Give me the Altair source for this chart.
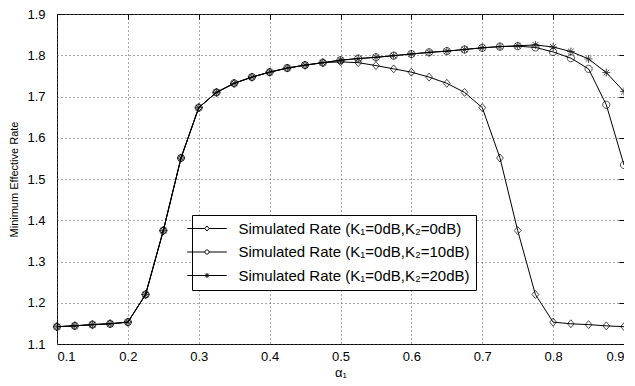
import altair as alt
import pandas as pd

alpha = [0.1, 0.125, 0.15, 0.175, 0.2, 0.225, 0.25, 0.275, 0.3, 0.325, 0.35,
         0.375, 0.4, 0.425, 0.45, 0.475, 0.5, 0.525, 0.55, 0.575, 0.6, 0.625,
         0.65, 0.675, 0.7, 0.725, 0.75, 0.775, 0.8, 0.825, 0.85, 0.875, 0.9]

rate_k2_0 = [1.142, 1.144, 1.147, 1.149, 1.153, 1.220, 1.375, 1.551, 1.673, 1.710,
             1.732, 1.747, 1.759, 1.769, 1.776, 1.782, 1.784, 1.782, 1.775, 1.767,
             1.759, 1.747, 1.732, 1.710, 1.673, 1.551, 1.375, 1.220, 1.153, 1.149,
             1.147, 1.144, 1.142]

rate_k2_10 = [1.142, 1.144, 1.147, 1.149, 1.153, 1.220, 1.375, 1.551, 1.673, 1.710,
              1.732, 1.747, 1.759, 1.769, 1.776, 1.782, 1.788, 1.792, 1.795, 1.799,
              1.803, 1.807, 1.810, 1.814, 1.818, 1.821, 1.822, 1.819, 1.808, 1.793,
              1.767, 1.680, 1.534]

rate_k2_20 = [1.142, 1.144, 1.147, 1.149, 1.153, 1.220, 1.375, 1.551, 1.673, 1.710,
              1.732, 1.747, 1.759, 1.769, 1.776, 1.782, 1.788, 1.792, 1.795, 1.799,
              1.803, 1.807, 1.810, 1.814, 1.818, 1.821, 1.823, 1.825, 1.820, 1.809,
              1.791, 1.758, 1.712]

series_names = ["Simulated Rate (K₁=0dB,K₂=0dB)",
                "Simulated Rate (K₁=0dB,K₂=10dB)",
                "Simulated Rate (K₁=0dB,K₂=20dB)"]

x_ticks = [0.1, 0.2, 0.3, 0.4, 0.5, 0.6, 0.7, 0.8, 0.9]
y_ticks = [1.1, 1.2, 1.3, 1.4, 1.5, 1.6, 1.7, 1.8, 1.9]

rows = []
for name, vals in zip(series_names, [rate_k2_0, rate_k2_10, rate_k2_20]):
    for a, r in zip(alpha, vals):
        rows.append({"alpha": a, "rate": r, "series": name})
df = pd.DataFrame(rows)

# marker shapes for the plot (unit = sqrt(size)/2 px)
plot_paths = [
    "M0,-1L0.85,0L0,1L-0.85,0Z",
    "M0.9,0A0.9,0.9 0 1,1 -0.9,0A0.9,0.9 0 1,1 0.9,0Z",
    "M-1,0L1,0M0,-1L0,1M-0.72,-0.72L0.72,0.72M-0.72,0.72L0.72,-0.72",
]
# legend symbols: line with marker in the middle
legend_paths = [
    "M-3.6,0L-0.4,0M0.4,0L3.6,0M0,-0.46L0.4,0L0,0.46L-0.4,0Z",
    "M-3.6,0L-0.38,0M0.38,0L3.6,0M0.38,0A0.38,0.38 0 1,1 -0.38,0A0.38,0.38 0 1,1 0.38,0Z",
    "M-3.6,0L3.6,0M0,-0.45L0,0.45M-0.33,-0.33L0.33,0.33M-0.33,0.33L0.33,-0.33",
]

FONT = "Liberation Sans"
xs = alt.Scale(domain=[0.1, 0.9], nice=False, zero=False)
ys = alt.Scale(domain=[1.1, 1.9], nice=False, zero=False)

base = alt.Chart(df)

lines = base.mark_line(color="black", strokeWidth=1).encode(
    x=alt.X("alpha:Q", scale=xs, axis=alt.Axis(
        title="α₁", values=x_ticks, format=".1f", ticks=False, tickSize=0,
        domain=False, labelPadding=6, labelFontSize=13, labelColor="black",
        labelFont=FONT, titleFont=FONT, titleFontSize=13, titleFontWeight="normal",
        titleColor="black", titlePadding=3,
        grid=True, gridDash=[1, 3], gridColor="#555", gridWidth=1)),
    y=alt.Y("rate:Q", scale=ys, axis=alt.Axis(
        title="Minimum Effective Rate", values=y_ticks, format=".1f", ticks=False,
        tickSize=0, domain=False, labelPadding=12, labelFontSize=13,
        labelColor="black", labelFont=FONT, titleFont=FONT, titleFontSize=11,
        titleFontWeight="normal", titleColor="black", titlePadding=7,
        grid=True, gridDash=[1, 3], gridColor="#555", gridWidth=1)),
    detail="series:N",
)

points = base.mark_point(filled=False, color="black", strokeWidth=1, size=64).encode(
    x=alt.X("alpha:Q", scale=xs, axis=alt.Axis(
        title=None, values=x_ticks, labels=False, domain=False, grid=False,
        ticks=True, tickSize=5, tickColor="black", offset=-5)),
    y=alt.Y("rate:Q", scale=ys, axis=alt.Axis(
        title=None, values=y_ticks, labels=False, domain=False, grid=False,
        ticks=True, tickSize=5, tickColor="black", offset=-5)),
    shape=alt.Shape("series:N", scale=alt.Scale(domain=series_names, range=plot_paths),
                    legend=None),
)

legend_layer = base.mark_point(filled=False, color="black", strokeWidth=1,
                               size=121, opacity=0).encode(
    x=alt.X("alpha:Q", scale=xs, axis=alt.Axis(
        orient="top", title=None, values=x_ticks, labels=False, domain=False,
        grid=False, ticks=True, tickSize=5, tickColor="black", offset=-5)),
    y=alt.Y("rate:Q", scale=ys, axis=alt.Axis(
        orient="right", title=None, values=y_ticks, labels=False, domain=False,
        grid=False, ticks=True, tickSize=5, tickColor="black", offset=-5)),
    shape=alt.Shape("series:N", scale=alt.Scale(domain=series_names, range=legend_paths),
                    legend=alt.Legend(
                        title=None, orient="none", legendX=135, legendY=201,
                        fillColor="white", strokeColor="black", padding=6,
                        labelFont=FONT, labelFontSize=15, labelColor="black",
                        symbolSize=121, symbolStrokeColor="black",
                        symbolStrokeWidth=1, symbolFillColor="white",
                        symbolOpacity=1, symbolOffset=1.5, labelOffset=24,
                        rowPadding=7.5, labelLimit=400)),
)

chart = alt.layer(lines, points, legend_layer).resolve_axis(
    x="independent", y="independent"
).resolve_scale(shape="independent").properties(
    width=567, height=330,
    autosize=alt.AutoSizeParams(type="none"),
    padding={"left": 49, "top": 6, "right": 0, "bottom": 34},
).configure_view(stroke="black", strokeWidth=1)

chart.save("out.html", embed_options={"renderer": "svg", "actions": False})
